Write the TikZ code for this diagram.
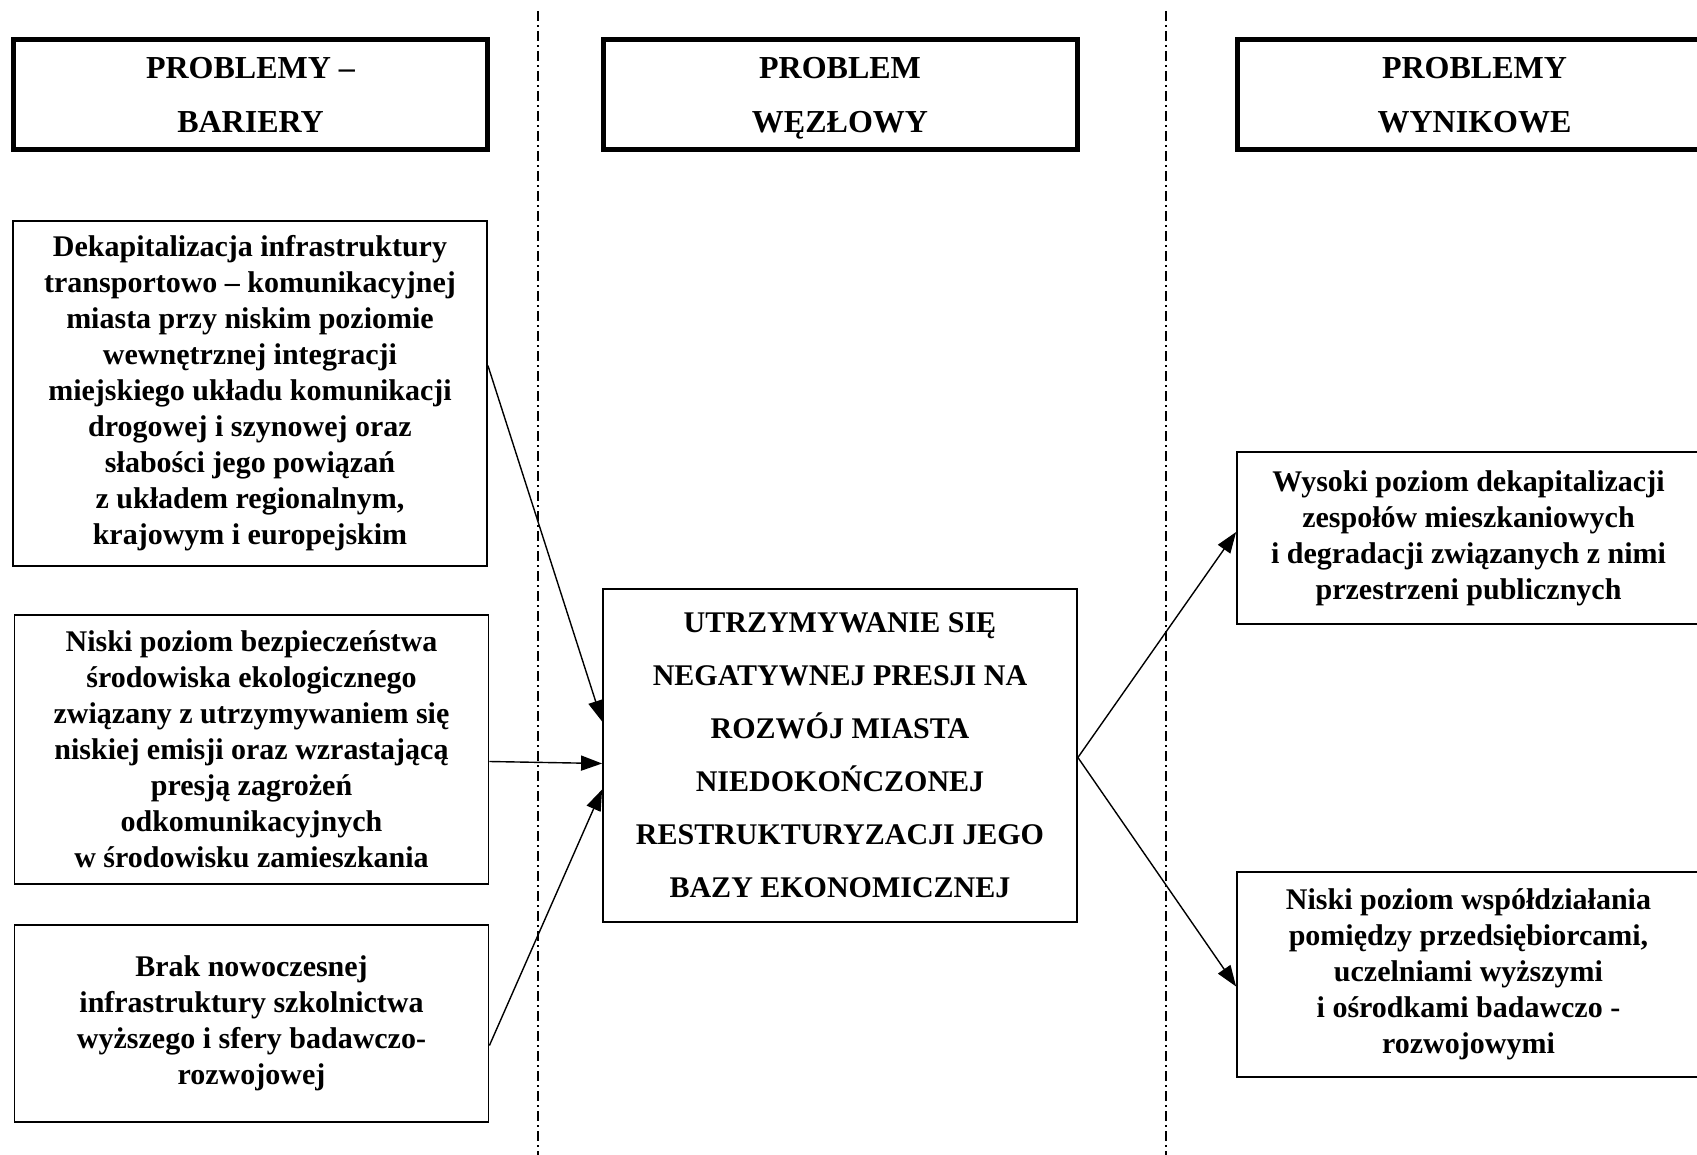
\documentclass[tikz,border=0pt]{standalone}
\usepackage{fontspec}
\setmainfont{Liberation Serif}
\usetikzlibrary{arrows.meta}

\tikzset{
  naglowek/.style={draw=black, line width=2.5pt, minimum width=237pt, minimum height=55pt,
    align=center, font=\bfseries\fontsize{16}{27}\selectfont},
  problem/.style={draw=black, line width=0.9pt, minimum width=237pt,
    align=center, font=\bfseries\fontsize{15}{18}\selectfont},
  wezel/.style={draw=black, line width=0.9pt, minimum width=237pt, minimum height=166.5pt,
    align=center, font=\bfseries\fontsize{15}{26.5}\selectfont},
  granica/.style={line width=0.7pt, dash pattern=on 5pt off 2pt on 1pt off 2pt},
}

\begin{document}
\begin{tikzpicture}[x=0.5pt, y=-0.5pt, >={Triangle[length=10.5pt,width=7.5pt]}, line width=0.7pt]
                \useasboundingbox (0,0) rectangle (1697,1155);

                % linie podzialu kolumn
                \draw[granica] (538,11) -- (538,1155);
                \draw[granica] (1166,11) -- (1166,1155);

                \node[naglowek] (n1) at (250.5,95) {PROBLEMY –\\BARIERY};
                \node[naglowek] (n2) at (840,95) {PROBLEM\\\raisebox{0pt}[\height][0pt]{WĘZŁOWY}};
                \node[naglowek] (n3) at (1474.5,95) {PROBLEMY\\WYNIKOWE};

                \node[problem, minimum height=172.5pt] (b1) at (250,393.5) {Dekapitalizacja infrastruktury\\transportowo – komunikacyjnej\\miasta przy niskim poziomie\\wewnętrznej integracji\\miejskiego układu komunikacji\\drogowej i szynowej oraz\\słabości jego powiązań\\z układem regionalnym,\\krajowym i europejskim};
                \node[problem, minimum height=134.5pt] (b2) at (251.5,749.5) {Niski poziom bezpieczeństwa\\środowiska ekologicznego\\związany z utrzymywaniem się\\niskiej emisji oraz wzrastającą\\presją zagrożeń\\odkomunikacyjnych\\w środowisku zamieszkania};
                \node[problem, minimum height=98.5pt] (b3) at (251.5,1023.5) {Brak nowoczesnej\\infrastruktury szkolnictwa\\wyższego i sfery badawczo-\\rozwojowej};

                \node[wezel] (w) at (840,755.5) {UTRZYMYWANIE SIĘ\\NEGATYWNEJ PRESJI NA\\ROZWÓJ MIASTA\\NIEDOKOŃCZONEJ\\RESTRUKTURYZACJI JEGO\\BAZY EKONOMICZNEJ};

                \node[problem, minimum width=231.5pt, minimum height=86pt] (r1) at (1468.5,538) {Wysoki poziom dekapitalizacji\\zespołów mieszkaniowych\\i degradacji związanych z nimi\\przestrzeni publicznych};
                \node[problem, minimum width=231.5pt, minimum height=102.5pt] (r2) at (1468.5,974.5) {Niski poziom współdziałania\\pomiędzy przedsiębiorcami,\\uczelniami wyższymi\\i ośrodkami badawczo -\\rozwojowymi};

                \path [->] ([yshift=14pt]b1.east) edge ([yshift=17pt]w.west);
                \path [->] ([yshift=-6pt]b2.east) edge ([yshift=-4pt]w.west);
                \path [->] ([yshift=-11pt]b3.east) edge ([yshift=-17pt]w.west);
                \path [->] ([yshift=-1pt]w.east) edge ([yshift=3pt]r1.west);
                \path [->] ([yshift=-1pt]w.east) edge ([yshift=-6pt]r2.west);
            \end{tikzpicture}
\end{document}
